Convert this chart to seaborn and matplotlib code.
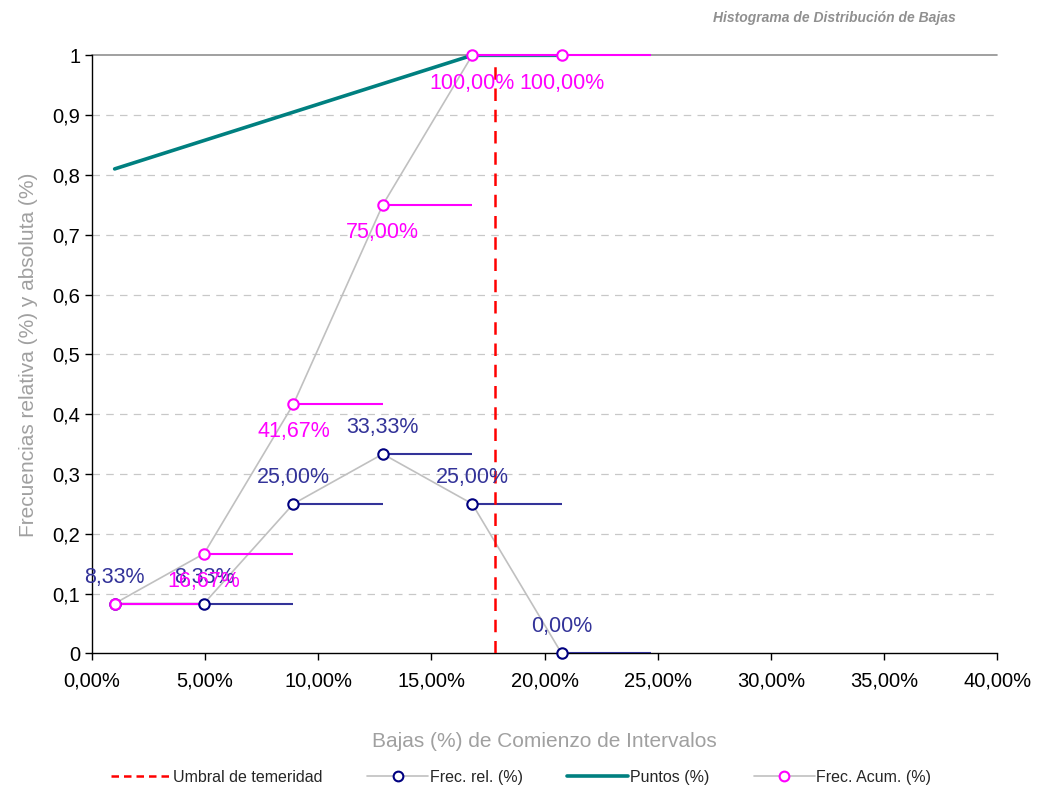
import numpy as np
import pandas as pd
import matplotlib
matplotlib.use("Agg")
import matplotlib.pyplot as plt
from matplotlib.ticker import FuncFormatter, MultipleLocator
from matplotlib.lines import Line2D
import seaborn as sns

# datos
inicio = [1.0, 4.95, 8.9, 12.85, 16.8, 20.75]          # comienzo de intervalo (%)
fin = [4.95, 8.9, 12.85, 16.8, 20.75, 24.7]            # fin de intervalo (%)
frec_rel = [0.0833, 0.0833, 0.25, 0.3333, 0.25, 0.0]
frec_acum = [0.0833, 0.1667, 0.4167, 0.75, 1.0, 1.0]
puntos_x = [1.0, 16.8, 20.75]
puntos_y = [0.81, 1.0, 1.0]
umbral = 17.8

COL_REL = "#333399"
COL_MK_REL = "#000080"
COL_ACUM = "#FF00FF"
COL_GRIS = "#C0C0C0"
COL_TXT = "#A0A0A0"

sns.set_style("white")
plt.rcParams["font.family"] = ["Liberation Sans", "DejaVu Sans"]

df_rel = pd.DataFrame({"x": inicio, "y": frec_rel})
df_acum = pd.DataFrame({"x": inicio, "y": frec_acum})
df_pts = pd.DataFrame({"x": puntos_x, "y": puntos_y})

fig = plt.figure(figsize=(10.42, 7.9), dpi=100)
ax = fig.add_axes([0.0883, 0.173, 0.8687, 0.757])

# grid
for v in np.arange(0.1, 1.0, 0.1):
    ax.axhline(v, color="#C8C8C8", lw=0.9, ls=(0, (6, 5)), zorder=0)
ax.axhline(1.0, color="#909090", lw=1.2, zorder=0, clip_on=False)

# puntos
sns.lineplot(data=df_pts, x="x", y="y", ax=ax, color="#008080", lw=2.6, zorder=2)

# lineas grises
sns.lineplot(data=df_rel, x="x", y="y", ax=ax, color=COL_GRIS, lw=1.2, zorder=2)
sns.lineplot(data=df_acum, x="x", y="y", ax=ax, color=COL_GRIS, lw=1.2, zorder=2)

# tramos horizontales
ax.hlines(frec_rel, inicio, fin, color=COL_REL, lw=1.5, zorder=3)
ax.hlines(frec_acum, inicio, fin, color=COL_ACUM, lw=1.5, zorder=3, clip_on=False)

# marcadores
ax.plot(inicio, frec_rel, ls="", marker="o", ms=7.5, mfc="white", mec=COL_MK_REL, mew=1.5,
        zorder=5, clip_on=False)
ax.plot(inicio, frec_acum, ls="", marker="o", ms=7.5, mfc="white", mec=COL_ACUM, mew=1.5,
        zorder=5, clip_on=False)

# umbral
ax.axvline(umbral, color="#FF0000", lw=1.8, ls=(0, (5, 3.5)), ymax=0.985, zorder=4)


def pct(v):
    return f"{v * 100:.2f}%".replace(".", ",")


for x, y in zip(inicio, frec_rel):
    ax.annotate(pct(y), (x, y), xytext=(0, 19), textcoords="offset points",
                ha="center", va="center", color=COL_REL, fontsize=15.5, zorder=6,
                annotation_clip=False)
for x, y in list(zip(inicio, frec_acum))[1:]:
    ax.annotate(pct(y), (x, y), xytext=(0, -20), textcoords="offset points",
                ha="center", va="center", color=COL_ACUM, fontsize=15.5, zorder=6,
                annotation_clip=False)

ax.set_xlim(0, 40)
ax.set_ylim(0, 1)
ax.xaxis.set_major_locator(MultipleLocator(5))
ax.yaxis.set_major_locator(MultipleLocator(0.1))
ax.xaxis.set_major_formatter(FuncFormatter(lambda v, p: f"{v:.2f}%".replace(".", ",")))
ax.yaxis.set_major_formatter(FuncFormatter(lambda v, p: f"{v:.1f}".rstrip("0").rstrip(".").replace(".", ",") if v else "0"))
ax.tick_params(axis="both", direction="out", length=5, width=1, color="black",
               labelsize=14.5, labelcolor="black", bottom=True, left=True)
ax.tick_params(axis="x", pad=8)

for s in ["top", "right"]:
    ax.spines[s].set_visible(False)
for s in ["left", "bottom"]:
    ax.spines[s].set_color("black")
    ax.spines[s].set_linewidth(1)

ax.set_xlabel("Bajas (%) de Comienzo de Intervalos", color=COL_TXT, fontsize=15, labelpad=30)
ax.set_ylabel("Frecuencias relativa (%) y absoluta (%)", color=COL_TXT, fontsize=15, labelpad=10)

fig.text(0.917, 0.977, "Histograma de Distribución de Bajas", ha="right", va="center",
         fontsize=10, fontweight="bold", fontstyle="italic", color="#909090")

handles = [
    Line2D([], [], color="#FF0000", lw=1.8, ls=(0, (3, 2))),
    Line2D([], [], color=COL_GRIS, lw=1.2, marker="o", mfc="white", mec=COL_MK_REL, mew=1.5, ms=7),
    Line2D([], [], color="#008080", lw=2.6),
    Line2D([], [], color=COL_GRIS, lw=1.2, marker="o", mfc="white", mec=COL_ACUM, mew=1.5, ms=7),
]
labels = ["Umbral de temeridad", "Frec. rel. (%)", "Puntos (%)", "Frec. Acum. (%)"]
fig.legend(handles, labels, loc="center", bbox_to_anchor=(0.5, 0.016), ncol=4, frameon=False,
           fontsize=11.5, handlelength=3.8, handletextpad=0.1, columnspacing=2.8)

fig.savefig("out.png", dpi=100)
